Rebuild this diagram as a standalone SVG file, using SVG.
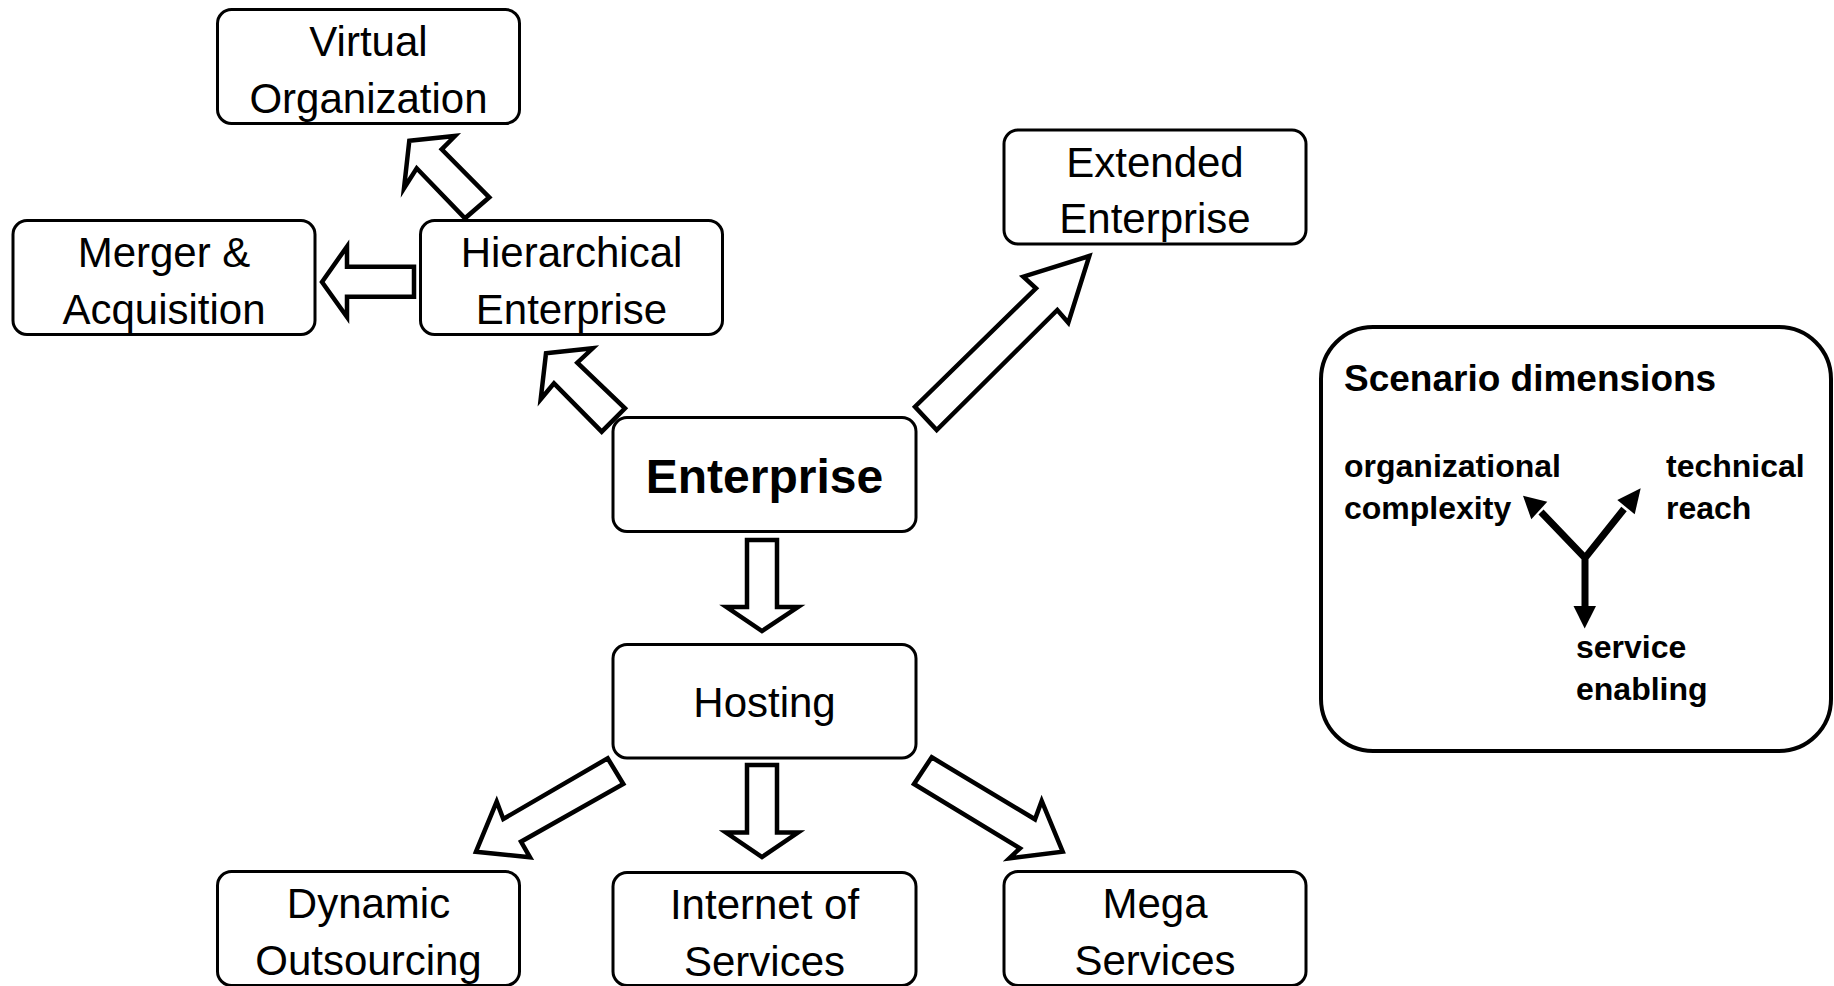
<svg xmlns="http://www.w3.org/2000/svg" width="1834" height="986" viewBox="0 0 1834 986">
<style>
.box{fill:#fff;stroke:#000;stroke-width:3}
.t{font-family:"Liberation Sans",Arial,sans-serif;font-size:42px;fill:#000;text-anchor:middle}
.tb{font-family:"Liberation Sans",Arial,sans-serif;font-size:48px;font-weight:bold;fill:#000;text-anchor:middle}
.blk{fill:#fff;stroke:#000;stroke-width:4.5;stroke-linejoin:miter;stroke-miterlimit:10}
.lg{font-family:"Liberation Sans",Arial,sans-serif;font-size:32px;font-weight:bold;fill:#000}
.lgt{font-family:"Liberation Sans",Arial,sans-serif;font-size:37px;font-weight:bold;fill:#000}
</style>
<rect width="1834" height="986" fill="#fff"/>
<g id="connectors">
<polygon class="blk" points="409.3,140.7 455,136 441.7,149.3 489.3,197.3 465,218.3 416.7,168.3 404,188.3"/>
<polygon class="blk" points="546,353.3 592.7,348.3 577.3,362.7 625,408.3 601.7,431.7 554,383.3 540.7,399.3"/>
<polygon class="blk" points="322,282 347,246.5 347,266.7 414,266.7 414,296.7 347,296.7 347,317"/>
<polygon class="blk" points="1089.3,256 1023.3,276.7 1036,288.3 915,406.7 936.7,430 1057.3,310 1068.3,322.7"/>
<polygon class="blk" points="747,540 777,540 777,607 798,607 762,631 726.5,607 747,607"/>
<polygon class="blk" points="747,765 777,765 777,832.5 798,832.5 762,857 726,832.5 747,832.5"/>
<polygon class="blk" points="476,851.7 496.7,801.7 503.3,819 607.7,758.3 623.3,784 521,841.7 530,857.3"/>
<polygon class="blk" points="931.7,757.3 1035,819.3 1041.7,801 1062.7,851.7 1009.3,858.3 1020,848.3 914,784"/>
</g>
<g id="virtual-organization">
<rect class="box" x="217.5" y="9.5" width="302" height="114" rx="14"/>
<text class="t" x="368.5" y="56">Virtual</text>
<text class="t" x="368.5" y="112.5">Organization</text>
</g>
<g id="merger-acquisition">
<rect class="box" x="13" y="220.5" width="302" height="114" rx="14"/>
<text class="t" x="164" y="267">Merger &amp;</text>
<text class="t" x="164" y="323.5">Acquisition</text>
</g>
<g id="hierarchical-enterprise">
<rect class="box" x="420.5" y="220.5" width="302" height="114" rx="14"/>
<text class="t" x="571.5" y="267">Hierarchical</text>
<text class="t" x="571.5" y="323.5">Enterprise</text>
</g>
<g id="extended-enterprise">
<rect class="box" x="1004" y="130" width="302" height="114" rx="14"/>
<text class="t" x="1155" y="176.5">Extended</text>
<text class="t" x="1155" y="233">Enterprise</text>
</g>
<g id="enterprise">
<rect class="box" x="613" y="417.5" width="303" height="114" rx="14"/>
<text class="tb" x="764.5" y="493">Enterprise</text>
</g>
<g id="hosting">
<rect class="box" x="613" y="644.5" width="303" height="113.5" rx="14"/>
<text class="t" x="764.5" y="716.5">Hosting</text>
</g>
<g id="dynamic-outsourcing">
<rect class="box" x="217.5" y="871.5" width="302" height="114" rx="14"/>
<text class="t" x="368.5" y="918">Dynamic</text>
<text class="t" x="368.5" y="974.5">Outsourcing</text>
</g>
<g id="internet-of-services">
<rect class="box" x="613" y="872.5" width="303" height="113" rx="14"/>
<text class="t" x="764.5" y="919">Internet of</text>
<text class="t" x="764.5" y="975.5">Services</text>
</g>
<g id="mega-services">
<rect class="box" x="1004" y="871.5" width="302" height="114" rx="14"/>
<text class="t" x="1155" y="918">Mega</text>
<text class="t" x="1155" y="974.5">Services</text>
</g>
<g id="scenario-dimensions">
<rect x="1321" y="327" width="510" height="424" rx="52" fill="#fff" stroke="#000" stroke-width="4"/>
<text class="lgt" x="1344" y="391">Scenario dimensions</text>
<text class="lg" x="1344" y="477">organizational</text>
<text class="lg" x="1344" y="519">complexity</text>
<text class="lg" x="1666" y="477">technical</text>
<text class="lg" x="1666" y="519">reach</text>
<text class="lg" x="1576" y="658">service</text>
<text class="lg" x="1576" y="700">enabling</text>
<path d="M1541,512 L1585,558 L1624,509 M1585,556 V608" fill="none" stroke="#000" stroke-width="7" stroke-linejoin="miter"/>
<polygon points="1523,495.7 1547.3,501.7 1531.3,519.3" fill="#000"/>
<polygon points="1640.7,488.3 1617.3,500 1634.7,514.3" fill="#000"/>
<polygon points="1573.5,606 1596,606 1584.7,628.5" fill="#000"/>
</g>
</svg>
